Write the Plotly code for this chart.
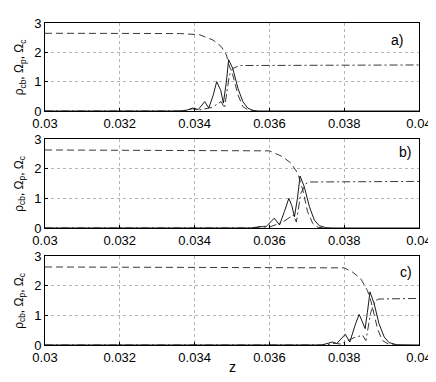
import plotly.graph_objects as go
from plotly.subplots import make_subplots

# panel a)
za_rho = [0.0300, 0.0336, 0.0338, 0.03395, 0.0341, 0.03427, 0.03438, 0.0345, 0.03459, 0.0347,
          0.03477, 0.03485, 0.03491, 0.03502, 0.03516, 0.03529, 0.03542, 0.03556, 0.0357, 0.0400]
rho_a = [0, 0, 0.03, 0.1, 0.05, 0.32, 0.1, 0.55, 1.0, 0.7,
         0.27, 1.0, 1.75, 1.45, 0.77, 0.32, 0.1, 0.02, 0, 0]
za_wp = [0.0300, 0.0336, 0.03413, 0.03449, 0.03471, 0.03485, 0.03491, 0.03502, 0.03516, 0.03529,
         0.03545, 0.0356]
wp_a = [2.65, 2.64, 2.6, 2.42, 2.2, 1.92, 1.6, 1.23, 0.55, 0.15, 0.02, 0]
za_wc = [0.0300, 0.0337, 0.03395, 0.0341, 0.03446, 0.03471, 0.0348, 0.03493, 0.03502, 0.03511,
         0.0352, 0.0400]
wc_a = [0, 0, 0.08, 0.03, 0.12, 0.32, 0.1, 1.22, 1.45, 1.5, 1.55, 1.57]

# panel b)
zb_rho = [0.0300, 0.0355, 0.03578, 0.0359, 0.03613, 0.03627, 0.0364, 0.03652, 0.0366, 0.03667,
          0.03675, 0.03682, 0.03693, 0.03707, 0.0372, 0.03733, 0.03751, 0.0377, 0.0400]
rho_b = [0, 0, 0.05, 0.03, 0.33, 0.1, 0.55, 1.0, 0.75, 0.38,
         1.0, 1.75, 1.4, 0.72, 0.27, 0.08, 0.01, 0, 0]
zb_wp = [0.0300, 0.0355, 0.0360, 0.03636, 0.03658, 0.03676, 0.03683, 0.0369, 0.03702, 0.03716,
         0.0373, 0.0375]
wp_b = [2.63, 2.62, 2.6, 2.4, 2.18, 1.84, 1.55, 1.25, 0.55, 0.15, 0.02, 0]
zb_wc = [0.0300, 0.0356, 0.03585, 0.0360, 0.03636, 0.03664, 0.03672, 0.03684, 0.03698, 0.03707,
         0.0400]
wc_b = [0, 0, 0.06, 0.03, 0.2, 0.44, 0.2, 1.17, 1.5, 1.55, 1.57]

# panel c)
zc_rho = [0.0300, 0.0374, 0.03769, 0.0378, 0.03803, 0.03815, 0.0383, 0.0384, 0.03848, 0.03856,
          0.03862, 0.03869, 0.0388, 0.03893, 0.03907, 0.0392, 0.0394, 0.0396, 0.0400]
rho_c = [0, 0, 0.1, 0.05, 0.36, 0.1, 0.7, 1.03, 0.8, 0.55,
         1.1, 1.79, 1.4, 0.72, 0.27, 0.08, 0.01, 0, 0]
zc_wp = [0.0300, 0.0374, 0.0380, 0.03822, 0.03844, 0.03862, 0.0387, 0.03876, 0.03889, 0.03902,
         0.0392, 0.0394]
wp_c = [2.63, 2.62, 2.6, 2.46, 2.24, 1.84, 1.55, 1.25, 0.55, 0.15, 0.02, 0]
zc_wc = [0.0300, 0.0375, 0.03775, 0.0379, 0.03827, 0.03849, 0.03858, 0.03871, 0.03884, 0.03893,
         0.0400]
wc_c = [0, 0, 0.06, 0.03, 0.25, 0.33, 0.15, 1.1, 1.5, 1.55, 1.57]

panel_labels = ["a)", "b)", "c)"]
label_pos = [(0.03941, 2.42), (0.03963, 2.56), (0.03965, 2.46)]
x_ticks = [0.03, 0.032, 0.034, 0.036, 0.038, 0.04]
y_ticks = [0, 1, 2, 3]

panels = [
    (za_rho, rho_a, za_wp, wp_a, za_wc, wc_a),
    (zb_rho, rho_b, zb_wp, wp_b, zb_wc, wc_b),
    (zc_rho, rho_c, zc_wp, wp_c, zc_wc, wc_c),
]

fig = make_subplots(rows=3, cols=1)
font = "Liberation Sans, Arial, sans-serif"

for i, (zr, r, zp, p, zc, c) in enumerate(panels, start=1):
    fig.add_trace(go.Scatter(x=zr, y=r, mode="lines", line=dict(color="black", width=0.9),
                             showlegend=False), row=i, col=1)
    fig.add_trace(go.Scatter(x=zp, y=p, mode="lines",
                             line=dict(color="#222222", width=0.9, dash="7px,4px"),
                             showlegend=False), row=i, col=1)
    fig.add_trace(go.Scatter(x=zc, y=c, mode="lines",
                             line=dict(color="#222222", width=0.9, dash="8px,3px,2px,3px"),
                             showlegend=False), row=i, col=1)
    lx, ly = label_pos[i - 1]
    fig.add_annotation(x=lx, y=ly, text=panel_labels[i - 1], showarrow=False,
                       font=dict(size=14, color="black"), row=i, col=1)

fig.update_xaxes(range=[0.03, 0.04], tickvals=x_ticks, ticktext=[str(t) for t in x_ticks],
                 showline=True, mirror=True, linecolor="black", linewidth=1,
                 ticks="inside", ticklen=3, tickcolor="black", ticklabeloverflow="allow",
                 showgrid=True, gridcolor="#b5b5b5", griddash="dot", gridwidth=0.8,
                 zeroline=False, tickfont=dict(size=13, color="black"), automargin=False)
fig.update_yaxes(range=[0, 3], tickvals=y_ticks,
                 showline=True, mirror=True, linecolor="black", linewidth=1,
                 ticks="inside", ticklen=3, tickcolor="black",
                 showgrid=True, gridcolor="#b5b5b5", griddash="dot", gridwidth=0.8,
                 zeroline=False, tickfont=dict(size=13, color="black"), automargin=False)

fig.update_layout(
    yaxis=dict(domain=[0.7267, 1.0]),
    yaxis2=dict(domain=[0.3634, 0.6398]),
    yaxis3=dict(domain=[0.0, 0.2764]),
)

ytitle = "ρ<sub>cb</sub>, Ω<sub>p</sub>, Ω<sub>c</sub>"
for ymid in [(0.7267 + 1.0) / 2, (0.3634 + 0.6398) / 2, 0.2764 / 2]:
    fig.add_annotation(xref="paper", yref="paper", x=-0.066, y=ymid, text=ytitle,
                       textangle=-90, showarrow=False, xanchor="center", yanchor="middle",
                       font=dict(size=12, color="black"))

fig.add_annotation(xref="paper", yref="paper", x=0.5, y=-0.068, text="z",
                   showarrow=False, xanchor="center", yanchor="middle",
                   font=dict(size=14, color="black"))

# page body has an 8px margin, so the figure is made 8px smaller on each axis
fig.update_layout(
    width=428, height=374,
    margin=dict(l=37, r=17, t=15, b=37),
    paper_bgcolor="white", plot_bgcolor="white",
    font=dict(family=font, color="black"),
)

fig.write_html("out.html")
